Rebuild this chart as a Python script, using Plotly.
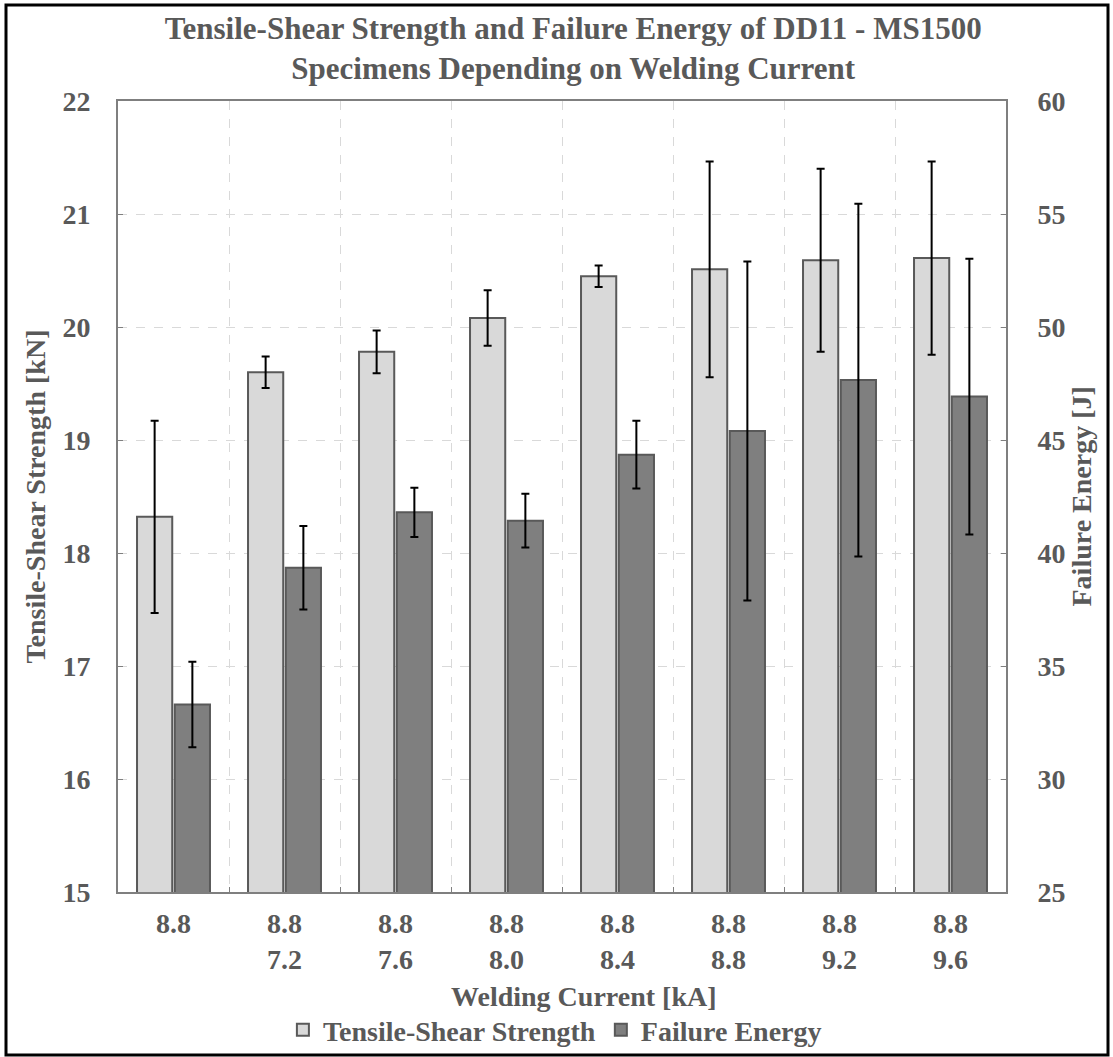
import plotly.graph_objects as go

# Welding current schedule per specimen group (pre-pulse / main pulse, kA)
categories = ["8.8", "8.8<br>7.2", "8.8<br>7.6", "8.8<br>8.0",
              "8.8<br>8.4", "8.8<br>8.8", "8.8<br>9.2", "8.8<br>9.6"]

# Tensile-shear strength [kN] with standard deviation
strength = [18.32, 19.60, 19.78, 20.08, 20.45, 20.51, 20.59, 20.61]
strength_err = [0.85, 0.14, 0.19, 0.245, 0.095, 0.955, 0.81, 0.855]

# Failure energy [J] with standard deviation
energy = [33.3, 39.35, 41.8, 41.43, 44.35, 45.4, 47.65, 46.92]
energy_err = [1.89, 1.85, 1.09, 1.19, 1.5, 7.5, 7.8, 6.1]

FONT = "Liberation Serif"
TXT = "#595959"

fig = go.Figure()
fig.add_trace(go.Bar(
    x=categories, y=strength, name="<b>Tensile-Shear Strength</b>",
    marker=dict(color="#d9d9d9", line=dict(color="#595959", width=2)),
    error_y=dict(type="data", array=strength_err, color="black", thickness=2, width=4),
    offsetgroup="a", alignmentgroup="g", yaxis="y",
))
fig.add_trace(go.Bar(
    x=categories, y=energy, name="<b>Failure Energy</b>",
    marker=dict(color="#7f7f7f", line=dict(color="#595959", width=2)),
    error_y=dict(type="data", array=energy_err, color="black", thickness=2, width=4),
    offsetgroup="b", alignmentgroup="g", yaxis="y2",
))

axis_font = dict(family=FONT, size=28, color=TXT)

fig.update_layout(
    width=1113, height=1057,
    margin=dict(l=118, r=107, t=101, b=165, autoexpand=False),
    paper_bgcolor="white", plot_bgcolor="white",
    font=dict(family=FONT, color=TXT),
    barmode="group", bargap=0.32, bargroupgap=0.067,
    title=dict(
        text="<b>Tensile-Shear Strength and Failure Energy of DD11 - MS1500<br>"
             "Specimens Depending on Welding Current</b>",
        font=dict(family=FONT, size=31, color=TXT),
        x=0.515, xanchor="center", xref="container",
        y=1 - 39 / 1057, yanchor="middle", yref="container",
    ),
    xaxis=dict(
        type="category", tickson="boundaries",
        showgrid=True, gridcolor="#d9d9d9", griddash="dash", gridwidth=1,
        ticks="inside", ticklen=5, tickcolor="#7f7f7f",
        showline=True, linecolor="#7f7f7f", linewidth=2, mirror=True,
        tickfont=axis_font, ticklabelstandoff=5,
        tickprefix="<b>", ticksuffix="</b>",
    ),
    yaxis=dict(
        range=[15, 22], dtick=1,
        showgrid=True, gridcolor="#d9d9d9", griddash="dash", gridwidth=1,
        ticks="inside", ticklen=5, tickcolor="#7f7f7f",
        showline=True, linecolor="#7f7f7f", linewidth=2, mirror=True,
        tickfont=axis_font, ticklabelstandoff=20,
        tickprefix="<b>", ticksuffix="</b>", zeroline=False,
    ),
    yaxis2=dict(
        range=[25, 60], dtick=5, overlaying="y", side="right",
        showgrid=False, ticks="inside", ticklen=5, tickcolor="#7f7f7f",
        showline=True, linecolor="#7f7f7f", linewidth=2,
        tickfont=axis_font, ticklabelstandoff=24,
        tickprefix="<b>", ticksuffix="</b>", zeroline=False,
    ),
    legend=dict(
        orientation="h", x=0.492, xanchor="center",
        y=(892 - 1030) / 791, yanchor="middle",
        font=dict(family=FONT, size=28, color=TXT),
        itemwidth=30, tracegroupgap=0, bgcolor="rgba(0,0,0,0)",
    ),
    showlegend=True,
)

# Axis titles
fig.add_annotation(
    text="<b>Welding Current [kA]</b>", xref="paper", yref="paper",
    x=(584 - 118) / 888, y=(892 - 996) / 791, showarrow=False,
    font=dict(family=FONT, size=28, color=TXT), xanchor="center", yanchor="middle",
)
fig.add_annotation(
    text="<b>Tensile-Shear Strength [kN]</b>", xref="paper", yref="paper",
    x=(35 - 118) / 888, y=0.5, showarrow=False, textangle=-90,
    font=dict(family=FONT, size=28, color=TXT), xanchor="center", yanchor="middle",
)
fig.add_annotation(
    text="<b>Failure Energy [J]</b>", xref="paper", yref="paper",
    x=(1081 - 118) / 888, y=0.5, showarrow=False, textangle=-90,
    font=dict(family=FONT, size=28, color=TXT), xanchor="center", yanchor="middle",
)

# Outer frame around the whole figure
fig.add_shape(
    type="rect", xref="paper", yref="paper",
    x0=(6 - 118) / 888, x1=(1108 - 118) / 888,
    y0=(892 - 1055) / 791, y1=(892 - 5) / 791,
    line=dict(color="black", width=3), fillcolor="rgba(0,0,0,0)", layer="below",
)

fig.write_html("out.html")
